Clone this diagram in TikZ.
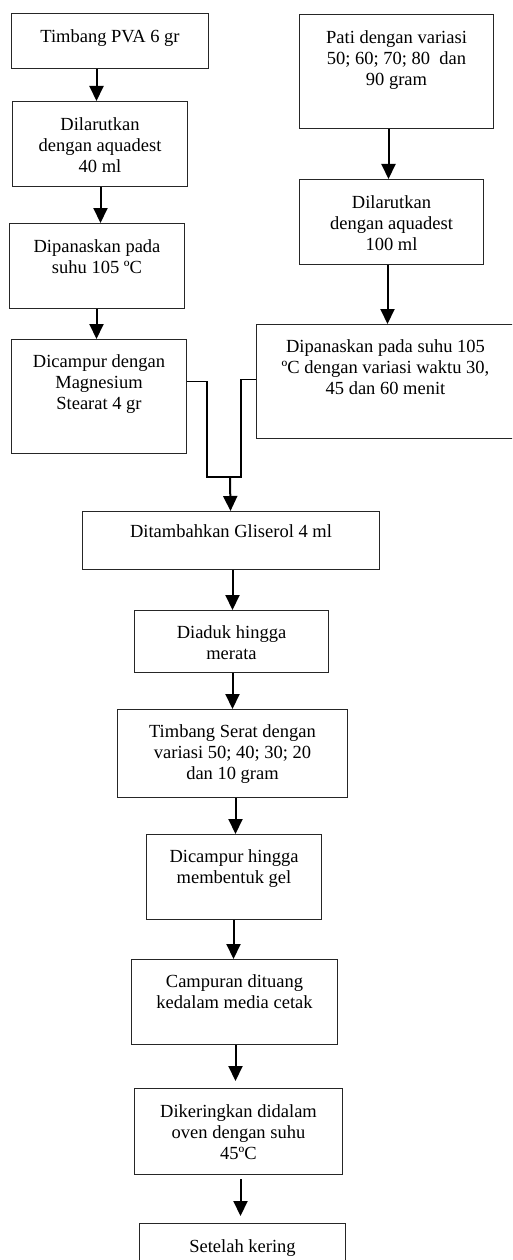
\documentclass[tikz,border=0pt]{standalone}
\usepackage{fontspec}
\setmainfont{Liberation Serif}
\usetikzlibrary{arrows.meta,calc}
\tikzset{
  procbox/.style={draw=black!85, line width=1pt, rectangle, inner sep=0pt, fill=white},
  txt/.style={align=center, inner sep=0pt, font=\fontsize{18.5}{21}\selectfont, anchor=north},
  arr/.style={draw=black, line width=2pt, -{Triangle[width=14pt,length=15pt]}},
  joinline/.style={draw=black, line width=1.6pt},
}
% #1 name, #2 x, #3 y, #4 width, #5 height, #6 baseline offset, #7 text
\newcommand\mkbox[7]{%
  \node[procbox, minimum width=#4pt, minimum height=#5pt, anchor=north west] (#1) at (#2,#3) {};
  \node[txt] (#1t) at ([yshift=-#6pt+14.7pt]#1.north) {\strut #7};
}
\begin{document}
\begin{tikzpicture}[x=1pt,y=-1pt]
\useasboundingbox (0,0) rectangle (512,1260);
\clip (0,0) rectangle (512,1260);
\fill[white] (0,0) rectangle (512,1260);

\mkbox{A}{11}{13}{197}{55}{29}{Timbang PVA 6 gr}
\mkbox{B}{12}{101}{175}{85}{29}{Dilarutkan\\dengan aquadest\\40 ml}
\mkbox{C}{9}{223}{175}{85}{29}{Dipanaskan pada\\suhu 105 ºC}
\mkbox{D}{11}{339}{175}{114}{28}{Dicampur dengan\\Magnesium\\Stearat 4 gr}
\mkbox{E1}{299}{14}{194}{114}{29}{Pati dengan variasi\\50; 60; 70; 80\ \ dan\\90 gram}
\mkbox{E2}{299}{179}{184}{85}{29}{Dilarutkan\\dengan aquadest\\100 ml}
\mkbox{F}{256}{324}{258}{114}{28}{Dipanaskan pada suhu 105\\ºC dengan variasi waktu 30,\\45 dan 60 menit}
\mkbox{G}{82}{511}{297}{58}{26}{Ditambahkan Gliserol 4 ml}
\mkbox{H}{134}{610}{194}{62}{28}{Diaduk hingga\\merata}
\mkbox{I}{117}{709}{230}{88}{28}{Timbang Serat dengan\\variasi 50; 40; 30; 20\\dan 10 gram}
\mkbox{J}{146}{834}{175}{85}{28}{Dicampur hingga\\membentuk gel}
\mkbox{K}{131}{959}{206}{85}{28}{Campuran dituang\\kedalam media cetak}
\mkbox{L}{134}{1088}{208}{86}{29}{Dikeringkan didalam\\oven dengan suhu\\45ºC}
\mkbox{M}{139}{1223}{206}{60}{29}{Setelah kering}

% left column
\draw[arr] ([xshift=-13.5pt]A.south) -- ([xshift=-3.5pt]B.north);
\draw[arr] ([xshift=0.5pt]B.south) -- ([xshift=3.5pt]C.north);
\draw[arr] ([xshift=-0.5pt]C.south) -- ([xshift=-2.5pt]D.north);
% right column
\draw[arr] ([xshift=-8pt]E1.south) -- ([xshift=-3pt]E2.north);
\draw[arr] ([xshift=-4pt]E2.south) -- ([xshift=2pt]F.north);
% merge
\coordinate (mj) at (230,477);
\draw[joinline] ([yshift=15pt]D.east) -- ++(20pt,0) |- (mj);
\draw[joinline] ([yshift=2pt]F.west) -- ++(-15pt,0) |- (mj);
\draw[arr] (mj) -- ([xshift=-0.5pt]G.north);
% lower column
\draw[arr] ([xshift=1.5pt]G.south) -- ([xshift=1pt]H.north);
\draw[arr] ([xshift=1pt]H.south) -- ([xshift=0pt]I.north);
\draw[arr] ([xshift=3pt]I.south) -- ([xshift=1.5pt]J.north);
\draw[arr] ([xshift=-0.5pt]J.south) -- ([xshift=-1pt]K.north);
\draw[arr, shorten >=7pt] ([xshift=1pt]K.south) -- ([xshift=-3pt]L.north);
\draw[arr, shorten <=4pt, shorten >=7pt] ([xshift=2pt]L.south) -- ([xshift=-2pt]M.north);
\end{tikzpicture}
\end{document}
